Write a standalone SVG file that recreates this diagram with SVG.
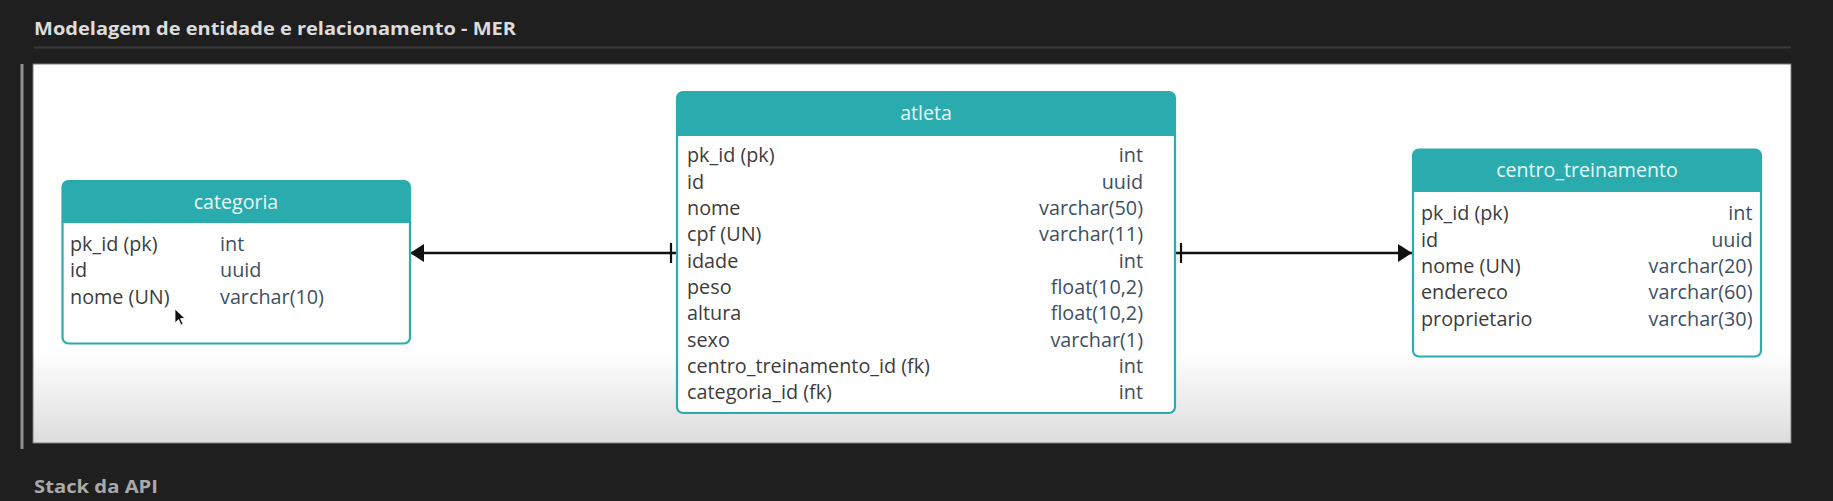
<svg xmlns="http://www.w3.org/2000/svg" width="1833" height="501" viewBox="0 0 1833 501">
<defs>
<linearGradient id="panelGrad" x1="0" y1="64" x2="0" y2="443" gradientUnits="userSpaceOnUse">
<stop offset="0" stop-color="#ffffff"/>
<stop offset="0.76" stop-color="#ffffff"/>
<stop offset="1" stop-color="#dcdcdc"/>
</linearGradient>
<marker id="arrow" markerUnits="userSpaceOnUse" markerWidth="16" markerHeight="20" refX="14" refY="9" orient="auto" overflow="visible">
<path d="M0,0 L14,9 L0,18 Z" fill="#111"/>
</marker>
<marker id="tick" markerUnits="userSpaceOnUse" markerWidth="10" markerHeight="22" refX="0" refY="10" orient="auto" overflow="visible">
<line x1="6" y1="0" x2="6" y2="20" stroke="#111" stroke-width="2.2"/>
</marker>
</defs>
<style>
.page-title{font-family:"Open Sans","Noto Sans",sans-serif;font-weight:700;font-size:18px;fill:#dcdcdc}
.sub-title{font-family:"Open Sans","Noto Sans",sans-serif;font-weight:700;font-size:18px;fill:#a9a9a9}
.tbl{fill:#ffffff;stroke:#2aacae;stroke-width:2.2}
.hdr{fill:#2aacae}
.hdr-text{font-family:"Open Sans","Noto Sans",sans-serif;font-size:19.6px;fill:#e9f8f8;text-anchor:middle}
.name{font-family:"Open Sans","Noto Sans",sans-serif;font-size:19.8px;fill:#3c3c3c}
.type{font-family:"Open Sans","Noto Sans",sans-serif;font-size:19.8px;fill:#3d5062}
.type-r{font-family:"Open Sans","Noto Sans",sans-serif;font-size:19.8px;fill:#3d5062;text-anchor:end}
.conn{stroke:#111;stroke-width:2.5;fill:none}
</style>
<rect x="0" y="0" width="1833" height="501" fill="#1f1f1f"/>
<text class="page-title" x="34" y="35" textLength="482" lengthAdjust="spacingAndGlyphs">Modelagem de entidade e relacionamento - MER</text>
<line x1="34" y1="47.5" x2="1791" y2="47.5" stroke="#3a3a3a" stroke-width="2"/>
<rect x="20.5" y="64" width="3" height="385" fill="#8f8f8f"/>
<rect x="33" y="64" width="1758" height="379" fill="url(#panelGrad)" stroke="#7a7a7a" stroke-width="1"/>
<text class="sub-title" x="34" y="493" textLength="124" lengthAdjust="spacingAndGlyphs">Stack da API</text>

<g id="connectors">
<path class="conn" d="M677,253 L410,253" marker-start="url(#tick)" marker-end="url(#arrow)"/>
<path class="conn" d="M1175,253 L1412,253" marker-start="url(#tick)" marker-end="url(#arrow)"/>
</g>

<g id="categoria">
<rect class="tbl" x="62.5" y="181" width="347.5" height="162.5" rx="6"/>
<path class="hdr" d="M62.5,223 L62.5,187 Q62.5,181 68.5,181 L404,181 Q410,181 410,187 L410,223 Z"/>
<text class="hdr-text" x="236" y="209">categoria</text>
<text class="name" x="70" y="251">pk_id (pk)</text>
<text class="type" x="220" y="251">int</text>
<text class="name" x="70" y="277">id</text>
<text class="type" x="220" y="277">uuid</text>
<text class="name" x="70" y="303.5">nome (UN)</text>
<text class="type" x="220" y="303.5">varchar(10)</text>
</g>

<g id="atleta">
<rect class="tbl" x="677" y="92" width="498" height="321" rx="6"/>
<path class="hdr" d="M677,136 L677,98 Q677,92 683,92 L1169,92 Q1175,92 1175,98 L1175,136 Z"/>
<text class="hdr-text" x="926" y="120">atleta</text>
<text class="name" x="687" y="162.3">pk_id (pk)</text>
<text class="type-r" x="1143" y="162.3">int</text>
<text class="name" x="687" y="188.6">id</text>
<text class="type-r" x="1143" y="188.6">uuid</text>
<text class="name" x="687" y="215">nome</text>
<text class="type-r" x="1143" y="215">varchar(50)</text>
<text class="name" x="687" y="241.3">cpf (UN)</text>
<text class="type-r" x="1143" y="241.3">varchar(11)</text>
<text class="name" x="687" y="267.6">idade</text>
<text class="type-r" x="1143" y="267.6">int</text>
<text class="name" x="687" y="294">peso</text>
<text class="type-r" x="1143" y="294">float(10,2)</text>
<text class="name" x="687" y="320.3">altura</text>
<text class="type-r" x="1143" y="320.3">float(10,2)</text>
<text class="name" x="687" y="346.6">sexo</text>
<text class="type-r" x="1143" y="346.6">varchar(1)</text>
<text class="name" x="687" y="373">centro_treinamento_id (fk)</text>
<text class="type-r" x="1143" y="373">int</text>
<text class="name" x="687" y="399.3">categoria_id (fk)</text>
<text class="type-r" x="1143" y="399.3">int</text>
</g>

<g id="centro_treinamento">
<rect class="tbl" x="1413" y="149.5" width="348" height="207" rx="6"/>
<path class="hdr" d="M1413,192 L1413,155.5 Q1413,149.5 1419,149.5 L1755,149.5 Q1761,149.5 1761,155.5 L1761,192 Z"/>
<text class="hdr-text" x="1587" y="177">centro_treinamento</text>
<text class="name" x="1421" y="220">pk_id (pk)</text>
<text class="type-r" x="1752.5" y="220">int</text>
<text class="name" x="1421" y="246.5">id</text>
<text class="type-r" x="1752.5" y="246.5">uuid</text>
<text class="name" x="1421" y="273">nome (UN)</text>
<text class="type-r" x="1752.5" y="273">varchar(20)</text>
<text class="name" x="1421" y="299.3">endereco</text>
<text class="type-r" x="1752.5" y="299.3">varchar(60)</text>
<text class="name" x="1421" y="325.6">proprietario</text>
<text class="type-r" x="1752.5" y="325.6">varchar(30)</text>
</g>

<path d="M175,309 L175,323 L178.5,319.5 L181,325 L183,324 L180.5,318.5 L185,318.5 Z" fill="#111" stroke="#fff" stroke-width="0.8"/>
</svg>
